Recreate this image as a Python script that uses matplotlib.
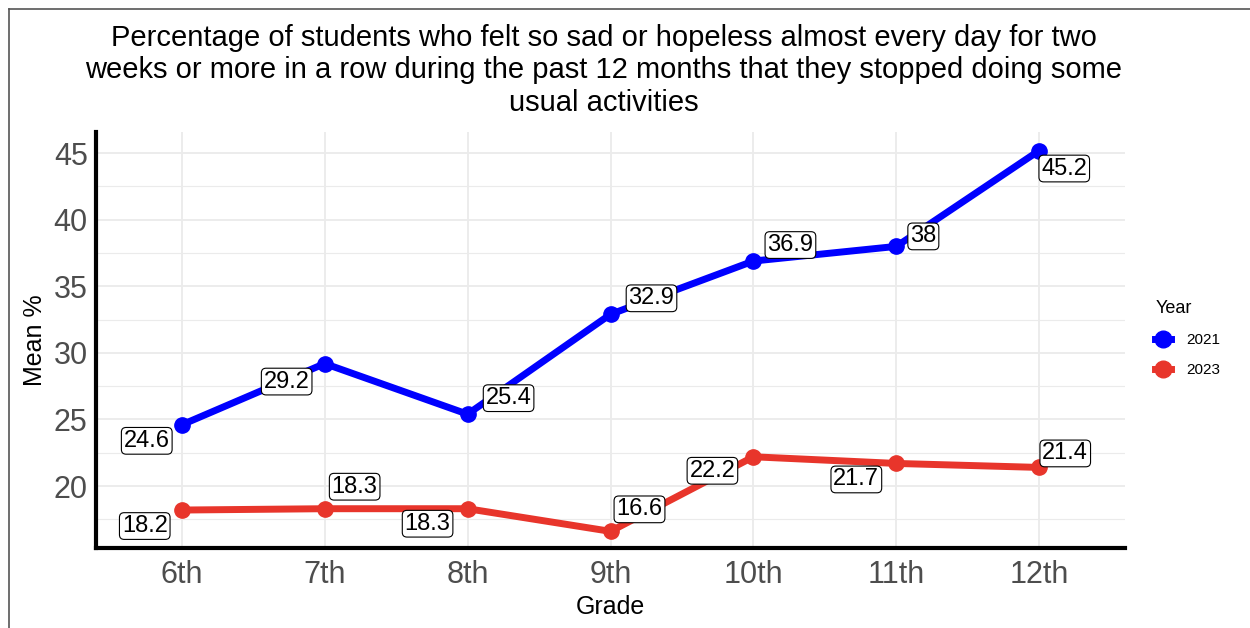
import matplotlib.pyplot as plt
from matplotlib.lines import Line2D

plt.rcParams["font.family"] = ["Liberation Sans", "DejaVu Sans"]

grades = ["6th", "7th", "8th", "9th", "10th", "11th", "12th"]
pct_2021 = [24.6, 29.2, 25.4, 32.9, 36.9, 38.0, 45.2]
pct_2023 = [18.2, 18.3, 18.3, 16.6, 22.2, 21.7, 21.4]
labels_2021 = ["24.6", "29.2", "25.4", "32.9", "36.9", "38", "45.2"]
labels_2023 = ["18.2", "18.3", "18.3", "16.6", "22.2", "21.7", "21.4"]

BLUE = "#0000ff"
RED = "#e8352b"

# label offsets in pixels (repelled boxes in the original)
off_2021 = [(-35, -16), (-38, -18), (41, 16), (41, 16), (37, 16), (27, 10), (25, -18)]
off_2023 = [(-37, -16), (30, 22), (-40, -15), (29, 22), (-41, -14), (-40, -16), (26, 14)]

fig = plt.figure(figsize=(12.5, 6.28), dpi=100)
ax = fig.add_axes([0.0768, 0.1274, 0.8232, 0.6626])

x = list(range(len(grades)))
for vals, labs, offs, color in [(pct_2021, labels_2021, off_2021, BLUE),
                                (pct_2023, labels_2023, off_2023, RED)]:
    ax.plot(x, vals, color=color, linewidth=5, marker="o", markersize=11,
            solid_capstyle="butt", zorder=3)
    for xi, v, lab, (dx, dy) in zip(x, vals, labs, offs):
        ax.annotate(lab, (xi, v), xytext=(dx, dy), textcoords="offset pixels",
                    ha="center", va="center", fontsize=17, color="black",
                    bbox=dict(boxstyle="round,pad=0.1,rounding_size=0.2",
                              fc="white", ec="black", lw=0.8),
                    zorder=4)

ax.set_xlim(-0.6, 6.6)
ax.set_ylim(15.35, 46.6)
ax.set_xticks(x)
ax.set_xticklabels(grades)
ax.set_yticks([20, 25, 30, 35, 40, 45])
ax.set_yticks([17.5, 22.5, 27.5, 32.5, 37.5, 42.5], minor=True)
ax.tick_params(axis="both", which="both", length=0, labelsize=22,
               labelcolor="#4d4d4d")
ax.tick_params(axis="x", pad=9)
ax.tick_params(axis="y", pad=6)
ax.grid(True, which="major", color="#ebebeb", linewidth=1.3, zorder=0)
ax.grid(True, which="minor", axis="y", color="#ebebeb", linewidth=0.8, zorder=0)
ax.set_axisbelow(True)

for side in ["top", "right"]:
    ax.spines[side].set_visible(False)
for side in ["left", "bottom"]:
    ax.spines[side].set_linewidth(3)
    ax.spines[side].set_color("black")

ax.set_xlabel("Grade", fontsize=18, labelpad=3)
ax.set_ylabel("Mean %", fontsize=18, labelpad=5)

fig.text(0.483, 0.962,
         "Percentage of students who felt so sad or hopeless almost every day for two\n"
         "weeks or more in a row during the past 12 months that they stopped doing some\n"
         "usual activities",
         ha="center", va="top", fontsize=21, linespacing=1.2)

handles = [Line2D([], [], color=BLUE, marker="o", markersize=12, linewidth=5),
           Line2D([], [], color=RED, marker="o", markersize=12, linewidth=5)]
fig.legend(handles, ["2021", "2023"], title="Year", loc="upper left",
           bbox_to_anchor=(0.917, 0.537), frameon=False, fontsize=11,
           title_fontsize=13, handlelength=1.0, handletextpad=1.0,
           labelspacing=1.05, alignment="left", borderaxespad=0.2)

# screenshot border on top and left
fig.add_artist(Line2D([0.0072, 1.0], [0.986, 0.986], color="#555555", lw=1.2))
fig.add_artist(Line2D([0.0072, 0.0072], [0.0, 0.986], color="#555555", lw=1.2))

fig.savefig("out.png", dpi=100)
